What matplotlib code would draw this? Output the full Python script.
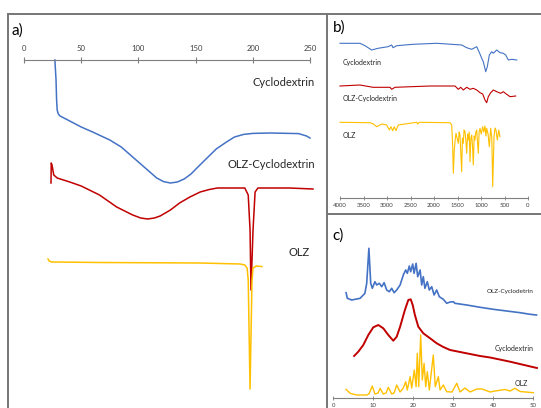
import matplotlib
matplotlib.use("Agg")
import matplotlib.pyplot as plt
from matplotlib.lines import Line2D

plt.rcParams['font.family'] = ['Lato', 'DejaVu Sans']

W, H = 541, 408
BLUE, RED, YELLOW = '#4472C4', '#C00000', '#FFC000'
GRID = '#7f7f7f'

# a) DSC, temperature (C) vs heat flow (arb.)
dsc_cd_T = [27, 28, 28.5, 29, 30, 31.5, 40, 50, 60, 75, 85, 95, 102, 110, 116, 122, 128, 134, 140,
            146, 152, 160, 168, 177, 184, 192, 200, 215, 240, 247, 250]
dsc_cd_hf = [0, -1.0, -2.0, -2.5, -2.7, -2.8, -3.05, -3.35, -3.6, -4.0, -4.35, -4.85, -5.2, -5.6,
             -5.9, -6.08, -6.15, -6.1, -5.95, -5.7, -5.35, -4.9, -4.45, -4.1, -3.85, -3.72, -3.67,
             -3.65, -3.68, -3.8, -3.9]
dsc_mix_T = [23.6, 23.8, 24.5, 26, 29, 40, 50, 66, 81, 95, 102, 108, 114, 119, 128, 136, 145, 154,
             162, 169, 193, 196, 197.6, 198.4, 200.2, 202, 204.5, 232, 252.6]
dsc_mix_hf = [-6.15, -5.15, -5.25, -5.75, -5.9, -6.1, -6.3, -6.75, -7.35, -7.75, -7.9, -7.95, -7.9,
              -7.8, -7.5, -7.15, -6.85, -6.6, -6.475, -6.4, -6.4, -6.75, -8.5, -11.5, -8.5, -6.6,
              -6.4, -6.4, -6.45]
dsc_olz_T = [21, 22, 24, 27, 66, 154, 189, 193, 195, 196, 197.6, 199.3, 200.2, 203, 208]
dsc_olz_hf = [-9.95, -10.05, -10.1, -10.1, -10.125, -10.15, -10.2, -10.25, -10.4, -11.0, -16.45,
              -11.0, -10.4, -10.3, -10.33]
dsc_ticks = [0, 50, 100, 150, 200, 250]

# b) FTIR, wavenumber (cm-1) vs transmittance (offset, arb.)
ir_cd_w = [4000, 3574, 3468, 3326, 3191, 2979, 2900, 2872, 2794, 2447, 1943, 1411, 1304, 1198, 1091,
           1042, 985, 951, 900, 866, 823, 772, 738, 666, 596, 526, 474, 419, 345, 240]
ir_cd_t = [154.7, 154.7, 152.3, 148, 149.7, 151.3, 153, 150.3, 152.3, 153.7, 154.7, 153, 150.3, 148.7,
           151.3, 146.3, 139.7, 136.3, 126.3, 131.3, 143, 146.3, 144.7, 148, 145.3, 144.7, 143, 138,
           138.7, 138]
ir_mix_w = [4000, 3574, 3298, 2936, 2900, 2830, 2085, 1553, 1483, 1432, 1377, 1304, 1234, 1164, 1091,
            1021, 964, 915, 879, 845, 794, 738, 666, 581, 526, 453, 383, 262]
ir_mix_t = [112, 113, 110.7, 110.7, 108.7, 110.7, 112, 112, 108.7, 110.7, 108, 110.7, 108.7, 109.7,
            108, 105.3, 104, 98, 95.3, 101.3, 105.3, 108, 106.3, 104.7, 106.3, 103.7, 101.3, 102]
ir_olz_w = [4000, 3362, 3291, 3219, 3113, 3006, 2951, 2915, 2879, 2845, 2809, 2760, 2368, 2347, 2313,
            1660, 1623, 1602, 1589, 1568, 1550, 1532, 1510, 1483, 1465, 1447, 1411, 1395, 1377, 1360,
            1340, 1320, 1304, 1285, 1270, 1250, 1234, 1215, 1198, 1180, 1164, 1145, 1128, 1110, 1091,
            1075, 1057, 1040, 1021, 995, 964, 940, 915, 895, 879, 850, 823, 794, 770, 751, 723, 700,
            681, 653, 623, 596]
ir_olz_t = [75.7, 75.3, 74, 71.3, 74, 73, 68, 71.3, 67.3, 71.3, 67.3, 73, 75.7, 74, 75.7,
            75.3, 73, 51.3, 24.7, 48, 58, 64.7, 60, 54.7, 66, 63, 26.3, 60, 54.7, 68,
            66.3, 56, 44.7, 64, 58, 66, 36.3, 60, 63, 52, 33, 62, 58, 66, 68,
            56, 44.7, 66, 69.7, 64, 71.3, 66, 72, 62, 69.7, 64, 51.3, 69.7, 60, 11.3, 61.3, 70,
            68, 58, 68, 61.3]
ir_ticks = [4000, 3500, 3000, 2500, 2000, 1500, 1000, 500, 0]

# c) XRD, 2-theta (deg) vs intensity (offset, arb.)
xrd_mix_2t = [3.2, 3.5, 4.6, 6.7, 7.9, 8.35, 8.9, 9.35, 9.75, 10.4, 10.85, 11.5, 12.1, 12.7, 13.35,
              14.0, 14.6, 15.2, 15.85, 16.7, 17.5, 18.1, 18.5, 19.0, 19.35, 19.85, 20.2, 20.7, 21.1,
              21.7, 22.1, 22.5, 22.9, 23.5, 24.0, 24.6, 25.2, 25.85, 26.5, 27.5, 28.35, 29.2, 30.0,
              30.4, 33.35, 36.7, 40, 43.35, 46.7, 49.2, 50.8]
xrd_mix_i = [105.3, 99.7, 98, 99.7, 104.7, 114.7, 149.7, 114.7, 109.7, 116.3, 113, 114.7, 111.3, 115.3,
             108, 106.3, 109.7, 105.3, 108, 113, 123, 128, 124.7, 132, 126.3, 134, 124.7, 134.7, 121.3,
             128, 113, 121.3, 109.7, 116.3, 108, 111.3, 103, 108, 101.3, 98.7, 94.7, 96, 96.3,
             94.7, 93, 90.7, 88.7, 87, 85.3, 83.7, 83]
xrd_cd_2t = [5.2, 6.25, 7.5, 8.75, 10.0, 11.25, 12.5, 13.75, 15.0, 15.85, 16.7, 17.9, 18.75, 19.35,
             19.85, 20.4, 21.25, 22.5, 24.2, 25.85, 27.5, 29.2, 31.7, 36.7, 39.2, 44.2, 50.9]
xrd_cd_i = [42, 46.3, 53, 63, 70.7, 73, 69.7, 63, 57.3, 61.3, 71.3, 88, 98, 98.7,
            93, 83, 71.3, 64.7, 59.7, 54.7, 51, 48, 46, 42, 40.5, 36.3, 30]
xrd_olz_2t = [3.2, 4.2, 5.85, 8.35, 8.9, 9.75, 10.4, 11.2, 11.7, 12.5, 13.2, 13.75, 14.6, 15.2, 15.85,
              16.7, 17.5, 18.1, 18.5, 19.2, 19.6, 20.25, 20.7, 21.0, 21.35, 21.85, 22.25, 22.7, 23.1,
              23.5, 24.0, 25.0, 25.5, 26.25, 26.7, 27.5, 28.35, 29.7, 30.85, 31.7, 32.9, 34.2, 35.85,
              37.2, 39.2, 40.4, 42.9, 44.2, 45.4, 46.7, 50.0]
xrd_olz_i = [8.7, 4.7, 3, 3, 4, 12, 4, 5, 9.7, 4, 5, 10.7, 4, 5, 13,
             6, 10, 16.3, 8, 21.3, 10, 28, 11.3, 44.7, 11.3, 63, 18, 34.7, 11.3,
             26.3, 8, 43, 11.3, 21.3, 8, 13, 6.3, 6, 14.7, 6, 10, 6, 9,
             9, 6, 7, 8.5, 7, 9.7, 6.5, 5.3]
xrd_ticks = [0, 10, 20, 30, 40, 50]

fig = plt.figure(figsize=(W / 100, H / 100), dpi=100)


def rect(x0, y0, x1, y1):
    # pixel box (top-left origin) -> figure fraction
    return [x0 / W, 1 - y1 / H, (x1 - x0) / W, (y1 - y0) / H]


def ftxt(x, y, s, size, ha='left', color='#262626'):
    fig.text(x / W, 1 - y / H, s, fontsize=size, ha=ha, va='center', color=color)


def bare_axis(ax, side):
    for s in ['left', 'right', 'top', 'bottom']:
        ax.spines[s].set_visible(s == side)
    ax.spines[side].set_color(GRID)
    ax.spines[side].set_linewidth(0.8)
    ax.set_yticks([])
    ax.patch.set_visible(False)


# panel borders
for xs, ys in [([8, W], [14, 14]), ([8, 8], [14, H]), ([327, 327], [14, H]), ([327, W], [213.5, 213.5])]:
    fig.add_artist(Line2D([x / W for x in xs], [1 - y / H for y in ys], color='#767676', lw=1.4))

# a)
ax_a = fig.add_axes(rect(24, 60, 310, 400))
ax_a.plot(dsc_cd_T, dsc_cd_hf, color=BLUE, lw=1.1, clip_on=False)
ax_a.plot(dsc_mix_T, dsc_mix_hf, color=RED, lw=1.1, clip_on=False)
ax_a.plot(dsc_olz_T, dsc_olz_hf, color=YELLOW, lw=1.1, clip_on=False)
ax_a.set_xlim(0, 250)
ax_a.set_ylim(-17, 0)
bare_axis(ax_a, 'top')
ax_a.xaxis.tick_top()
ax_a.set_xticks(dsc_ticks)
ax_a.tick_params(axis='x', direction='inout', length=4, width=0.8, color=GRID,
                 labelsize=5.5, labelcolor='#404040', pad=4)

ftxt(12, 31, 'a)', 11, color='black')
ftxt(315, 83, 'Cyclodextrin', 8, ha='right')
ftxt(315, 164.5, 'OLZ-Cyclodextrin', 8, ha='right')
ftxt(310, 252, 'OLZ', 8, ha='right')

# b)
ax_b = fig.add_axes(rect(340, 30, 528, 198))
ax_b.plot(ir_cd_w, ir_cd_t, color=BLUE, lw=0.8, clip_on=False)
ax_b.plot(ir_mix_w, ir_mix_t, color=RED, lw=0.8, clip_on=False)
ax_b.plot(ir_olz_w, ir_olz_t, color=YELLOW, lw=0.8, clip_on=False)
ax_b.set_xlim(4000, 0)
ax_b.set_ylim(0, 168)
bare_axis(ax_b, 'bottom')
ax_b.set_xticks(ir_ticks)
ax_b.tick_params(axis='x', direction='inout', length=3, width=0.6, color=GRID,
                 labelsize=4.3, labelcolor='#404040', pad=2)

ftxt(333, 28, 'b)', 11, color='black')
ftxt(343, 62, 'Cyclodextrin', 5)
ftxt(343, 98, 'OLZ-Cyclodextrin', 5)
ftxt(343, 135, 'OLZ', 5)

# c)
ax_c = fig.add_axes(rect(333.3, 240, 533.3, 398))
ax_c.plot(xrd_mix_2t, xrd_mix_i, color=BLUE, lw=1.2, clip_on=False)
ax_c.plot(xrd_cd_2t, xrd_cd_i, color=RED, lw=1.4, clip_on=False)
ax_c.plot(xrd_olz_2t, xrd_olz_i, color=YELLOW, lw=1.0, clip_on=False)
ax_c.set_xlim(0, 50)
ax_c.set_ylim(0, 158)
bare_axis(ax_c, 'bottom')
ax_c.set_xticks(xrd_ticks)
ax_c.tick_params(axis='x', direction='inout', length=3, width=0.6, color=GRID,
                 labelsize=4.3, labelcolor='#404040', pad=2)

ftxt(332, 236, 'c)', 11, color='black')
ftxt(487, 291, 'OLZ-Cyclodetrin', 4.6)
ftxt(495, 349, 'Cyclodextrin', 5)
ftxt(515, 384, 'OLZ', 5)

fig.savefig('out.png', dpi=100)
